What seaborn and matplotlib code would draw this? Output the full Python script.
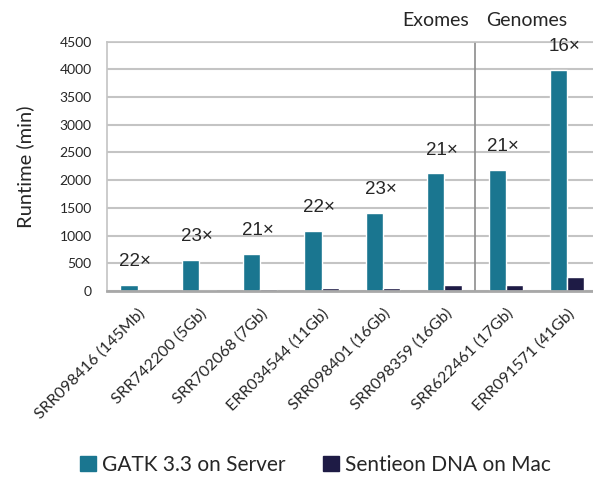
import pandas as pd
import matplotlib
matplotlib.use('Agg')
import matplotlib.pyplot as plt
import seaborn as sns

# dados
samples = ['SRR098416 (145Mb)', 'SRR742200 (5Gb)', 'SRR702068 (7Gb)', 'ERR034544 (11Gb)',
           'SRR098401 (16Gb)', 'SRR098359 (16Gb)', 'SRR622461 (17Gb)', 'ERR091571 (41Gb)']
gatk_min = [110, 555, 670, 1085, 1410, 2125, 2190, 3985]
sentieon_min = [5, 24, 32, 49, 61, 101, 104, 248]
speedup = ['22×', '23×', '21×', '22×', '23×', '21×', '21×', '16×']
series = ['GATK 3.3 on Server', 'Sentieon DNA on Mac']

TEAL = '#1a7690'
NAVY = '#1e1b45'
GRID = '#c4c4c4'
FONT = 'Lato'

df = pd.DataFrame({
    'sample': samples * 2,
    'runtime': gatk_min + sentieon_min,
    'tool': [series[0]] * len(samples) + [series[1]] * len(samples),
})

sns.set_theme(style='white')
plt.rcParams['font.family'] = [FONT, 'DejaVu Sans']

fig = plt.figure(figsize=(5.93, 4.79), dpi=100)
ax = fig.add_axes([0.1804, 0.3925, 0.8275, 0.5205])

sns.barplot(data=df, x='sample', y='runtime', hue='tool', hue_order=series,
            palette=[TEAL, NAVY], width=0.56, saturation=1, ax=ax, legend=False)

# barra clara no segundo Sentieon, igual a figura original
ax.patches[len(samples) + 1].set_facecolor('#cfcfdc')

ax.set_ylim(0, 4500)
ax.set_xlim(-0.5, len(samples) - 0.5)
ax.set_yticks(range(0, 4501, 500))
ax.yaxis.grid(True, color=GRID, linewidth=1.5)
ax.set_axisbelow(True)
for side in ['left', 'top', 'right']:
    ax.spines[side].set_color(GRID)
    ax.spines[side].set_linewidth(1.2)
ax.spines['right'].set_visible(False)
ax.spines['bottom'].set_color('#a8a8a8')
ax.spines['bottom'].set_linewidth(2)

ax.set_xlabel('')
ax.set_ylabel('Runtime (min)', fontsize=14.5, labelpad=18)
ax.tick_params(axis='y', labelsize=10, pad=11, length=0)
ax.tick_params(axis='x', length=0, pad=11)
ax.set_xticks(range(len(samples)))
ax.set_xticklabels(samples, rotation=45, ha='right', va='top', rotation_mode='anchor', fontsize=11.5)

# fatores de aceleração acima das barras
for i, (g, s) in enumerate(zip(gatk_min, speedup)):
    ax.annotate(s, xy=(i - 0.04, g), xytext=(0, 13.5), textcoords='offset points',
                ha='center', va='baseline', fontsize=13.5, family='Liberation Sans')

# divisão exomas / genomas
ax.axvline(5.5, color='#8c8c8c', linewidth=1.2)
trans = ax.get_xaxis_transform()
ax.text(5.4, 1.062, 'Exomes', transform=trans, ha='right', va='baseline', fontsize=14)
ax.text(5.68, 1.062, 'Genomes', transform=trans, ha='left', va='baseline', fontsize=14)

# legenda
handles = [plt.Rectangle((0, 0), 1, 1, color=c) for c in [TEAL, NAVY]]
fig.legend(handles, series, loc='center', bbox_to_anchor=(0.532, 0.029), ncol=2,
           frameon=False, fontsize=15, handlelength=0.75, handleheight=0.75,
           handletextpad=0.3, columnspacing=1.8)

plt.savefig('out.png', dpi=100)
